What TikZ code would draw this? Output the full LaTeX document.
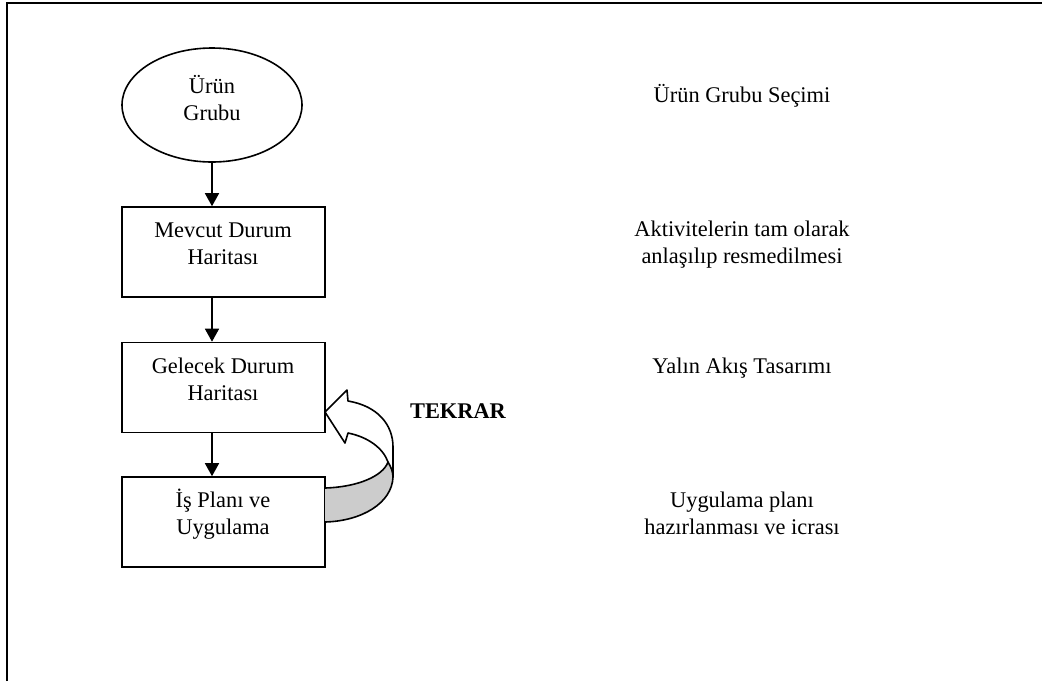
\documentclass[tikz,border=0pt]{standalone}
\usepackage{fontspec}
\setmainfont{Liberation Serif}
\usetikzlibrary{arrows.meta,shapes.geometric}
\definecolor{ribbongray}{RGB}{204,204,204}
\begin{document}
\begin{tikzpicture}[x=0.5pt,y=-0.5pt,
  every node/.style={font=\fontsize{11.2}{13.3}\selectfont},
  stepbox/.style={draw,line width=0.8pt,rectangle,minimum width=101.5pt,minimum height=45pt,inner sep=0pt},
  startoval/.style={draw,line width=0.8pt,ellipse,minimum width=90pt,minimum height=57pt,inner sep=0pt},
  txt/.style={align=center,anchor=base,inner sep=0pt},
  flow/.style={line width=0.8pt,-{Triangle[length=6.5pt,width=7pt]}},
  ribbon/.style={line width=0.8pt,line join=round}
]
\useasboundingbox (0,0) rectangle (1042,681);
% page frame (top and left edges)
\draw[line width=1pt] (7,681) -- (7,3) -- (1042,3);

% flow chart shapes
\node[startoval] (urun) at (212,105) {};
\node[stepbox] (mevcut) at (223.5,252) {};
\node[stepbox] (gelecek) at (223.5,387.5) {};
\node[stepbox] (plan) at (223.5,522) {};

% shape labels (base anchor sits on the last line)
\node[txt] (turun) at (212,120) {Ürün\\Grubu};
\node[txt] (tmevcut) at (223,264) {Mevcut Durum\\Haritası};
\node[txt] (tgelecek) at (223,400) {Gelecek Durum\\Haritası};
\node[txt] (tplan) at (223,534) {İş Planı ve\\Uygulama};

% connectors
\draw[flow] (urun.south) -- (mevcut.north -| urun.south);
\draw[flow] (mevcut.south -| urun.south) -- (gelecek.north -| urun.south);
\draw[flow] (gelecek.south -| urun.south) -- (plan.north -| urun.south);

% curved return arrow (ribbon with shaded underside)
\fill[white] (325,412) -- (347,390) -- (348,401)
  .. controls (378,406) and (393,425) .. (393,447) -- (393,477)
  .. controls (392,503) and (362,521) .. (325,522) -- (325,488)
  .. controls (358,487) and (383,476) .. (388,462)
  .. controls (383,448) and (368,437) .. (348,433) -- (345,443) -- cycle;
\filldraw[ribbon,fill=ribbongray] (325,488)
  .. controls (358,487) and (383,476) .. (388,462)
  .. controls (391,467) and (393,472) .. (393,477)
  .. controls (392,503) and (362,521) .. (325,522);
\draw[ribbon] (325,412) -- (347,390) -- (348,401)
  .. controls (378,406) and (393,425) .. (393,447) -- (393,477);
\draw[ribbon] (388,462) .. controls (383,448) and (368,437) .. (348,433)
  -- (345,443) -- (325,412);
\node[anchor=base,inner sep=0pt,font=\fontsize{11.2}{13.3}\selectfont\bfseries] (tekrar) at (458,418) {TEKRAR};

% step descriptions
\node[txt] (d1) at (742,102) {Ürün Grubu Seçimi};
\node[txt] (d2) at (742,263) {Aktivitelerin tam olarak\\anlaşılıp resmedilmesi};
\node[txt] (d3) at (742,373) {Yalın Akış Tasarımı};
\node[txt] (d4) at (742,534) {Uygulama planı\\hazırlanması ve icrası};
\end{tikzpicture}
\end{document}
